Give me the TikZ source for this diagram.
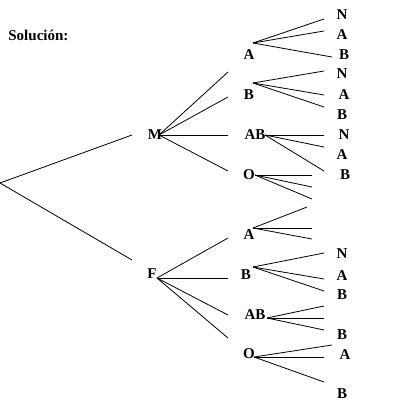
\documentclass[tikz,border=0pt]{standalone}
\usepackage{fontspec}
\setmainfont{Liberation Serif}
\tikzset{lbl/.style={font=\fontsize{15}{17}\selectfont\bfseries, inner sep=0pt}}
\begin{document}
\begin{tikzpicture}[x=1pt, y=-1pt, line width=0.8pt]
\useasboundingbox (0,0) rectangle (407,418);
\node[lbl, anchor=west] (sol) at (8,35) {Solución:};
% first level
\coordinate (r) at (0,183);
\coordinate (rM) at (132,135);
\coordinate (rF) at (132,260);
\draw (r) -- (rM);
\draw (r) -- (rF);
\node[lbl] (M) at (155,135) {M};
\node[lbl] (F) at (152,274) {F};
% second level
\node[lbl] (mA) at (249,55) {A};
\node[lbl] (mB) at (249,95) {B};
\node[lbl] (mAB) at (255,135) {AB};
\node[lbl] (mO) at (249,175) {O};
\node[lbl] (fA) at (249,235) {A};
\node[lbl] (fB) at (246,275) {B};
\node[lbl] (fAB) at (255,315) {AB};
\node[lbl] (fO) at (249,354) {O};
\coordinate (M-o) at (159,135);
\coordinate (F-o) at (157,278);
\foreach \p/\q [count=\i] in {228/72, 228/97, 228/135, 228/171}
  {\coordinate (M-\i) at (\p,\q); \draw (M-o) -- (M-\i);}
\foreach \p/\q [count=\i] in {228/238, 228/278, 228/315, 228/338}
  {\coordinate (F-\i) at (\p,\q); \draw (F-o) -- (F-\i);}
% third level
\coordinate (mA-o) at (253,43);
\coordinate (mB-o) at (253,83);
\coordinate (mAB-o) at (265,135);
\coordinate (mO-o) at (255,175);
\coordinate (fA-o) at (253,228);
\coordinate (fB-o) at (253,267);
\coordinate (fAB-o) at (267,318);
\coordinate (fO-o) at (254,357);
\foreach \p/\q [count=\i] in {324/19, 324/31, 332/57}
  {\coordinate (mA-\i) at (\p,\q); \draw (mA-o) -- (mA-\i);}
\foreach \p/\q [count=\i] in {324/71, 324/95, 324/107}
  {\coordinate (mB-\i) at (\p,\q); \draw (mB-o) -- (mB-\i);}
\foreach \p/\q [count=\i] in {324/135, 324/147, 324/171}
  {\coordinate (mAB-\i) at (\p,\q); \draw (mAB-o) -- (mAB-\i);}
\foreach \p/\q [count=\i] in {312/175, 312/187, 312/199}
  {\coordinate (mO-\i) at (\p,\q); \draw (mO-o) -- (mO-\i);}
\foreach \p/\q [count=\i] in {307/207, 312/228, 312/239}
  {\coordinate (fA-\i) at (\p,\q); \draw (fA-o) -- (fA-\i);}
\foreach \p/\q [count=\i] in {324/253, 324/279, 324/291}
  {\coordinate (fB-\i) at (\p,\q); \draw (fB-o) -- (fB-\i);}
\foreach \p/\q [count=\i] in {324/306, 324/318, 324/330}
  {\coordinate (fAB-\i) at (\p,\q); \draw (fAB-o) -- (fAB-\i);}
\foreach \p/\q [count=\i] in {332/345, 324/357, 324/382}
  {\coordinate (fO-\i) at (\p,\q); \draw (fO-o) -- (fO-\i);}
% leaves
\node[lbl] (mA-N) at (342,15) {N};
\node[lbl] (mA-A) at (342,35) {A};
\node[lbl] (mA-B) at (344,55) {B};
\node[lbl] (mB-N) at (342,74) {N};
\node[lbl] (mB-A) at (344,95) {A};
\node[lbl] (mB-B) at (342,115) {B};
\node[lbl] (mAB-N) at (344,135) {N};
\node[lbl] (mAB-A) at (342,155) {A};
\node[lbl] (mAB-B) at (345,175) {B};
\node[lbl] (fB-N) at (342,254) {N};
\node[lbl] (fB-A) at (342,276) {A};
\node[lbl] (fB-B) at (342,295) {B};
\node[lbl] (fAB-B) at (342,335) {B};
\node[lbl] (fO-A) at (345,355) {A};
\node[lbl] (fO-B) at (342,394) {B};
\end{tikzpicture}
\end{document}
